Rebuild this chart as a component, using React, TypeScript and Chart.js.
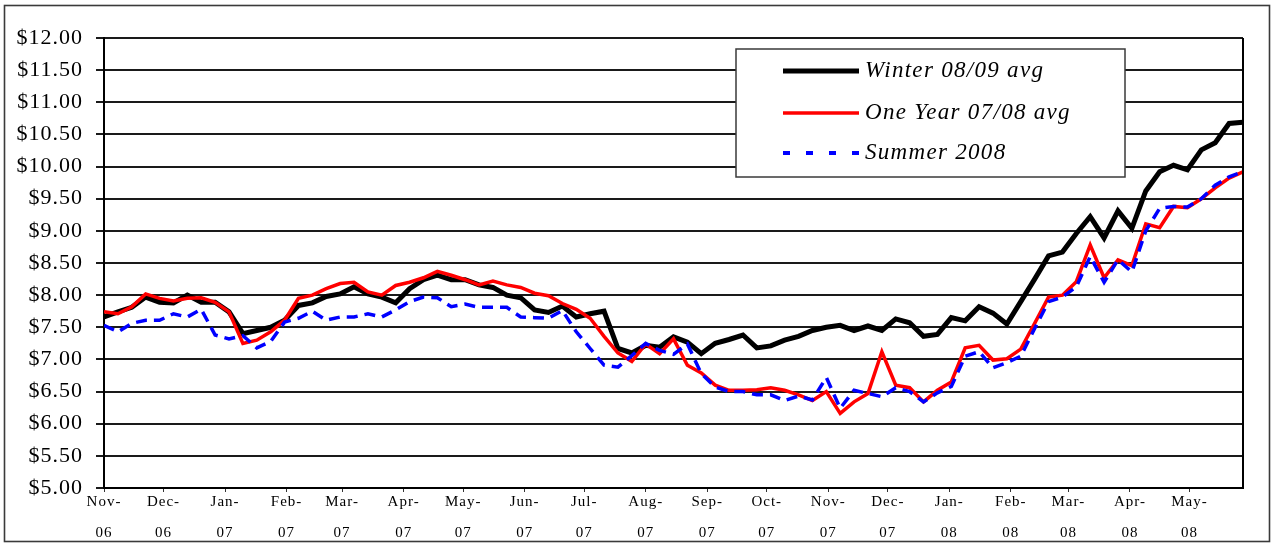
import React, { useEffect, useRef } from "react";
import { Chart, registerables } from "chart.js";

Chart.register(...registerables);

// ---- data ----
const firstWeek = "2006-11-01";
const seriesNames = ["Winter 08/09 avg", "One Year 07/08 avg", "Summer 2008"];
const seriesColors = ["#000000", "#ff0000", "#0000ff"];

const monthTickDates = [
  "2006-11-01", "2006-12-01", "2007-01-01", "2007-02-01", "2007-03-01", "2007-04-01",
  "2007-05-01", "2007-06-01", "2007-07-01", "2007-08-01", "2007-09-01", "2007-10-01",
  "2007-11-01", "2007-12-01", "2008-01-01", "2008-02-01", "2008-03-01", "2008-04-01",
  "2008-05-01",
];
const monthTickLabels = [
  ["Nov-", "06"], ["Dec-", "06"], ["Jan-", "07"], ["Feb-", "07"], ["Mar-", "07"], ["Apr-", "07"],
  ["May-", "07"], ["Jun-", "07"], ["Jul-", "07"], ["Aug-", "07"], ["Sep-", "07"], ["Oct-", "07"],
  ["Nov-", "07"], ["Dec-", "07"], ["Jan-", "08"], ["Feb-", "08"], ["Mar-", "08"], ["Apr-", "08"],
  ["May-", "08"],
];

const winter = [
  7.66, 7.74, 7.81, 7.97, 7.89, 7.88, 8.0, 7.89, 7.89, 7.74,
  7.4, 7.45, 7.5, 7.61, 7.84, 7.88, 7.98, 8.02, 8.13, 8.02,
  7.97, 7.88, 8.1, 8.24, 8.31, 8.24, 8.24, 8.16, 8.12, 8.0,
  7.96, 7.77, 7.73, 7.83, 7.66, 7.71, 7.75, 7.17, 7.1, 7.22,
  7.19, 7.35, 7.27, 7.09, 7.25, 7.31, 7.38, 7.18, 7.21, 7.3,
  7.36, 7.45, 7.5, 7.53, 7.45, 7.52, 7.45, 7.63, 7.57, 7.36,
  7.39, 7.65, 7.6, 7.82, 7.72, 7.55, 7.9, 8.25, 8.61, 8.67,
  8.96, 9.22, 8.89, 9.31, 9.04, 9.62, 9.92, 10.02, 9.95, 10.26,
  10.37, 10.67, 10.69,
];
const oneYear = [
  7.74, 7.71, 7.82, 8.02, 7.95, 7.91, 7.95, 7.96, 7.89, 7.74,
  7.25, 7.3, 7.43, 7.61, 7.95, 8.0, 8.1, 8.18, 8.2, 8.05,
  8.0, 8.15, 8.2, 8.27, 8.37, 8.31, 8.24, 8.16, 8.22, 8.16,
  8.12, 8.03, 7.99, 7.87, 7.78, 7.64, 7.36, 7.1, 6.97, 7.24,
  7.09, 7.32, 6.91, 6.79, 6.6, 6.52, 6.52, 6.53, 6.56, 6.52,
  6.45, 6.36, 6.5, 6.16, 6.34, 6.47, 7.12, 6.6, 6.56, 6.34,
  6.52, 6.65, 7.18, 7.22, 6.99, 7.01, 7.16, 7.56, 7.97, 8.0,
  8.21, 8.78, 8.27, 8.55, 8.46, 9.11, 9.05, 9.38, 9.36, 9.5,
  9.67, 9.82, 9.92,
];
const summer = [
  7.53, 7.43, 7.56, 7.61, 7.61, 7.71, 7.66, 7.78, 7.38, 7.32,
  7.37, 7.18, 7.28, 7.58, 7.64, 7.75, 7.61, 7.66, 7.66, 7.71,
  7.66, 7.77, 7.9, 7.97, 7.96, 7.82, 7.86, 7.81, 7.81, 7.81,
  7.66, 7.65, 7.64, 7.76, 7.43, 7.17, 6.91, 6.88, 7.06, 7.25,
  7.14, 7.08, 7.24, 6.78, 6.57, 6.5, 6.5, 6.45, 6.45, 6.36,
  6.43, 6.37, 6.72, 6.24, 6.52, 6.47, 6.42, 6.56, 6.5, 6.34,
  6.48, 6.58, 7.05, 7.12, 6.87, 6.95, 7.05, 7.48, 7.9, 7.97,
  8.13, 8.6, 8.2, 8.55, 8.36, 9.0, 9.35, 9.38, 9.37, 9.5,
  9.71, 9.84, 9.92,
];

const Y_MIN = 5;
const Y_MAX = 12;
const Y_STEP = 0.5;

// ---- helpers ----
const DAY = 86400000;
const toDay = (s: string) => {
  const [y, m, d] = s.split("-").map(Number);
  return Date.UTC(y, m - 1, d) / DAY;
};
const origin = toDay(firstWeek);
const weekDays = winter.map((_, i) => i * 7);
const monthOffsets = monthTickDates.map((s) => toDay(s) - origin);

const FONT = '"Liberation Serif", "Times New Roman", serif';

const decorPlugin = {
  id: "decor",
  beforeDraw(chart: any) {
    const ctx = chart.ctx as CanvasRenderingContext2D;
    ctx.save();
    ctx.fillStyle = "#ffffff";
    ctx.fillRect(0, 0, chart.width, chart.height);
    ctx.strokeStyle = "#3a3a3a";
    ctx.lineWidth = 1.6;
    ctx.strokeRect(4.5, 5.5, 1265, 536);
    ctx.restore();
    (ctx as any).letterSpacing = "1px";
  },
  afterDatasetsDraw(chart: any) {
    const ctx = chart.ctx as CanvasRenderingContext2D;
    const a = chart.chartArea;
    ctx.save();
    ctx.strokeStyle = "#000";
    ctx.lineWidth = 2;
    ctx.beginPath();
    ctx.moveTo(a.right, a.top);
    ctx.lineTo(a.right, a.bottom);
    ctx.stroke();
    ctx.restore();
  },
  afterDraw(chart: any) {
    const ctx = chart.ctx as CanvasRenderingContext2D;
    (ctx as any).letterSpacing = "0px";
    const box = { x: 736, y: 49, w: 389, h: 128 };
    ctx.save();
    ctx.fillStyle = "#fff";
    ctx.fillRect(box.x, box.y, box.w, box.h);
    ctx.strokeStyle = "#3a3a3a";
    ctx.lineWidth = 1.5;
    ctx.strokeRect(box.x, box.y, box.w, box.h);
    const rows = [71, 113, 153];
    chart.data.datasets.forEach((ds: any, i: number) => {
      const y = rows[i];
      ctx.save();
      ctx.strokeStyle = ds.borderColor;
      ctx.lineWidth = i === 0 ? 5 : i === 1 ? 3.5 : 4;
      ctx.setLineDash(i === 2 ? [7, 16] : []);
      ctx.beginPath();
      ctx.moveTo(783, y);
      ctx.lineTo(859, y);
      ctx.stroke();
      ctx.restore();
      ctx.fillStyle = "#000";
      ctx.font = `italic 23px ${FONT}`;
      (ctx as any).letterSpacing = "1.3px";
      ctx.textBaseline = "middle";
      ctx.textAlign = "left";
      ctx.fillText(ds.label, 865, y);
      (ctx as any).letterSpacing = "0px";
    });
    ctx.restore();
  },
};

export default function App() {
  const ref = useRef<HTMLCanvasElement | null>(null);

  useEffect(() => {
    if (!ref.current) return;
    const series = [winter, oneYear, summer];
    const chart = new Chart(ref.current, {
      type: "line",
      data: {
        datasets: series.map((vals, k) => ({
          label: seriesNames[k],
          data: vals.map((v, i) => ({ x: weekDays[i], y: v })),
          borderColor: seriesColors[k],
          backgroundColor: seriesColors[k],
          borderWidth: k === 0 ? 5 : k === 1 ? 3.5 : 3.5,
          borderDash: k === 2 ? [11, 7] : [],
          pointRadius: 0,
          tension: 0,
          fill: false,
          order: 3 - k,
        })),
      },
      options: {
        animation: false,
        responsive: true,
        maintainAspectRatio: false,
        layout: { padding: { left: 0, top: 38, right: 31, bottom: 0 } },
        plugins: { legend: { display: false }, tooltip: { enabled: false } },
        scales: {
          x: {
            type: "linear",
            min: 0,
            max: weekDays[weekDays.length - 1],
            afterBuildTicks: (s: any) => {
              s.ticks = monthOffsets.map((v) => ({ value: v }));
            },
            afterFit: (s: any) => {
              s.height = 64;
            },
            ticks: {
              autoSkip: false,
              maxRotation: 0,
              minRotation: 0,
              padding: -5,
              color: "#000",
              font: { family: FONT, size: 15, lineHeight: "31px" },
              callback: (_v: any, i: number) => monthTickLabels[i],
            },
            grid: {
              drawOnChartArea: false,
              drawTicks: true,
              tickLength: 4,
              color: "#333",
              lineWidth: 1,
            },
            border: { display: true, color: "#000", width: 2 },
          },
          y: {
            min: Y_MIN,
            max: Y_MAX,
            afterFit: (s: any) => {
              s.width = 104;
            },
            ticks: {
              stepSize: Y_STEP,
              padding: 13,
              color: "#000",
              font: { family: FONT, size: 22 },
              callback: (v: any) => "$" + Number(v).toFixed(2),
            },
            grid: {
              color: "#1a1a1a",
              lineWidth: 2,
              tickLength: 8,
              drawTicks: true,
            },
            border: { display: true, color: "#000", width: 2 },
          },
        },
      },
      plugins: [decorPlugin],
    } as any);
    return () => chart.destroy();
  }, []);

  return (
    <div style={{ position: "absolute", left: 0, top: 0, width: 1274, height: 552 }}>
      <canvas ref={ref} />
    </div>
  );
}
